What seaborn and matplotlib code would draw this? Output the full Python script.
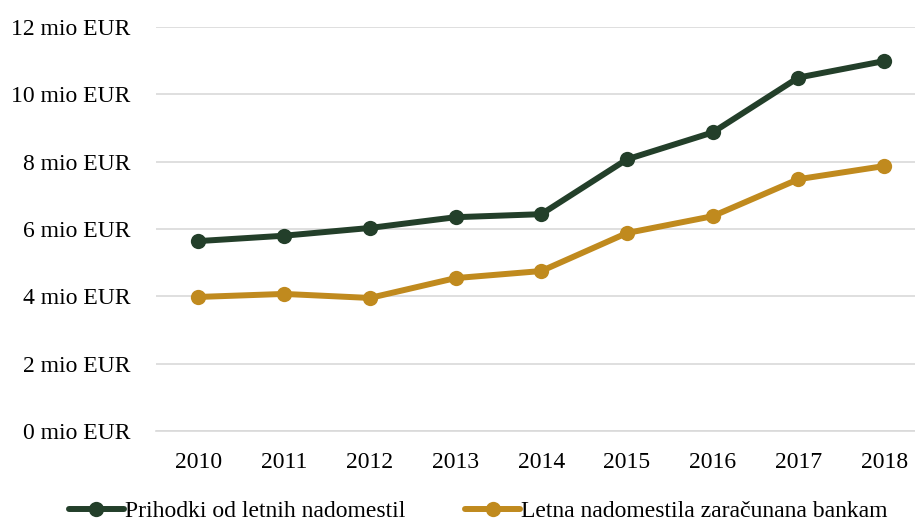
import matplotlib
matplotlib.use("Agg")
import matplotlib.pyplot as plt
import seaborn as sns
import pandas as pd

years = [2010, 2011, 2012, 2013, 2014, 2015, 2016, 2017, 2018]
prihodki = [5.64, 5.80, 6.03, 6.35, 6.44, 8.07, 8.87, 10.50, 10.99]
zaracunana = [3.98, 4.07, 3.95, 4.54, 4.75, 5.88, 6.38, 7.48, 7.87]
series_names = ["Prihodki od letnih nadomestil", "Letna nadomestila zaračunana bankam"]
yticks = [0, 2, 4, 6, 8, 10, 12]

sns.set_style("white")
plt.rcParams["font.family"] = ["Liberation Serif", "DejaVu Serif"]

df = pd.DataFrame({
    "year": years * 2,
    "value": prihodki + zaracunana,
    "series": [series_names[0]] * len(years) + [series_names[1]] * len(years),
})

fig = plt.figure(figsize=(9.15, 5.21), dpi=100)
ax = fig.add_axes([0.170, 0.173, 0.830, 0.775])

palette = {series_names[0]: "#233f2a", series_names[1]: "#c08a1e"}
sns.lineplot(data=df, x="year", y="value", hue="series", palette=palette,
             marker="o", markersize=11, markeredgewidth=0, linewidth=4.3,
             ax=ax, legend=True)

fs = 17
ax.set_ylim(0, 12)
ax.set_xlim(2009.5, 2018.36)
ax.set_yticks(yticks)
ax.set_yticklabels([f"{v} mio EUR" for v in yticks], fontsize=fs, color="black")
ax.set_xticks(years)
ax.set_xticklabels([str(y) for y in years], fontsize=fs, color="black")
ax.yaxis.grid(True, color="#d9d9d9", linewidth=1.2)
ax.set_axisbelow(True)
for s in ["top", "right", "left"]:
    ax.spines[s].set_visible(False)
ax.spines["bottom"].set_color("#d9d9d9")
ax.spines["bottom"].set_linewidth(1.2)
ax.tick_params(axis="y", length=0, pad=18)
ax.tick_params(axis="x", length=0, pad=15)
ax.set_xlabel("")
ax.set_ylabel("")

leg = ax.legend(loc="upper center", bbox_to_anchor=(0.425, -0.12), ncol=2,
                frameon=False, fontsize=fs, handlelength=2.35, handletextpad=0.05,
                columnspacing=2.5)
for t in leg.get_texts():
    t.set_color("black")

fig.savefig("out.png", dpi=100)
